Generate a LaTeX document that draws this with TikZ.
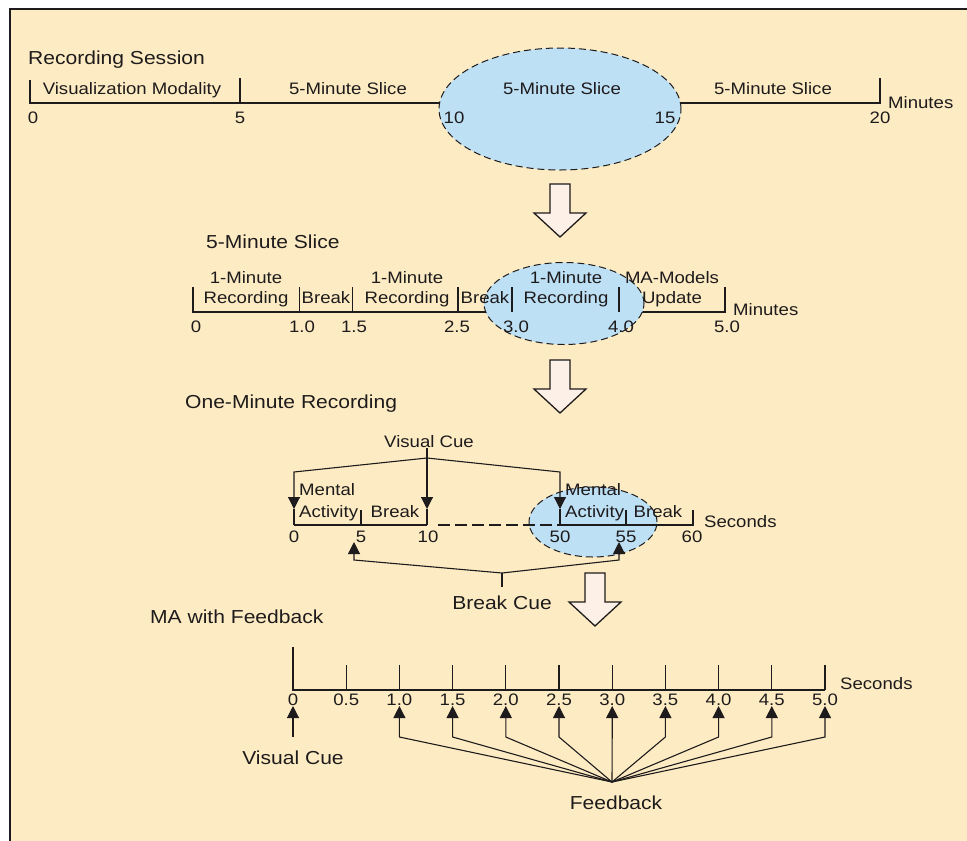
\documentclass[tikz,border=0pt]{standalone}
\usepackage{fontspec}
\setmainfont{Liberation Sans}[FakeStretch=1.12]
\usetikzlibrary{arrows.meta,shapes.geometric}
\definecolor{bgc}{RGB}{253,236,195}
\definecolor{ink}{RGB}{30,27,28}
\definecolor{ellc}{RGB}{190,224,245}
\definecolor{arrc}{RGB}{253,240,230}
\tikzset{
 tl/.style={draw=ink, line width=1.3pt},
 lbl/.style={text=ink, font=\fontsize{16.6}{18}\selectfont, inner sep=0pt, text height=11.9pt, text depth=0pt},
 big/.style={text=ink, font=\fontsize{18.8}{20}\selectfont, inner sep=0pt, text height=13.4pt, text depth=0pt},
 hl/.style={ellipse, fill=ellc, draw=ink, dash pattern=on 7pt off 4pt, line width=1pt, inner sep=0pt},
 cue/.style={draw=ink, line width=1.1pt, -{Triangle[width=12pt,length=12pt]}},
 cueline/.style={draw=ink, line width=1.1pt},
 blockarrow/.pic={\draw[fill=arrc, draw=ink, line width=1.3pt, line join=miter] (-10,0) -- (10,0) -- (10,29) -- (26,29) -- (0,53) -- (-26,29) -- (-10,29) -- cycle;}
}
\begin{document}
\begin{tikzpicture}[x=1pt,y=-1pt]
\useasboundingbox (0,0) rectangle (967,841);
\fill[bgc] (10,9) rectangle (967,841);
\draw[ink, line width=2pt] (10,841) -- (10,9) -- (967,9);

% ---------- Section 1 ----------
\node[big, anchor=west] (h1) at (28,58) {Recording Session};
\coordinate (a0t) at (30,80);  \coordinate (a0) at (30,103);
\coordinate (a5t) at (240,78); \coordinate (a5) at (240,103);
\coordinate (a20t) at (880,78); \coordinate (a20) at (880,103);
\draw[tl] (a0t) -- (a0) -- (a20) -- (a20t);
\draw[tl] (a5t) -- (a5);
\node[hl, minimum width=242pt, minimum height=122pt] (e1) at (560,109) {};
\node[lbl] (l1a) at (132,89) {Visualization Modality};
\node[lbl] (l1b) at (348,89) {5-Minute Slice};
\node[lbl] (l1c) at (562,89) {5-Minute Slice};
\node[lbl] (l1d) at (773,89) {5-Minute Slice};
\node[lbl] (n1a) at (33,118) {0};
\node[lbl] (n1b) at (240,118) {5};
\node[lbl] (n1c) at (454,118) {10};
\node[lbl] (n1d) at (665,118) {15};
\node[lbl] (n1e) at (880,118) {20};
\node[lbl, anchor=west] (u1) at (888,103) {Minutes};

\pic at (560,184) {blockarrow};

% ---------- Section 2 ----------
\node[big, anchor=west] (h2) at (206,242) {5-Minute Slice};
\coordinate (b0) at (193,312);   \coordinate (b0t) at (193,287);
\coordinate (b1) at (299.5,312); \coordinate (b1t) at (299.5,287);
\coordinate (b15) at (352.6,312); \coordinate (b15t) at (352.6,287);
\coordinate (b25) at (458,312);  \coordinate (b25t) at (458,287);
\coordinate (b3) at (512,312);   \coordinate (b3t) at (512,287);
\coordinate (b4) at (619,312);   \coordinate (b4t) at (619,287);
\coordinate (b5) at (725,312);   \coordinate (b5t) at (725,287);
\draw[tl] (b0t) -- (b0) -- (b5) -- (b5t);
\foreach \t in {b1,b15,b25} \draw[tl] (\t t) -- (\t);
\node[hl, minimum width=160pt, minimum height=82pt] (e2) at (564,303.5) {};
\foreach \t in {b3,b4} \draw[tl] (\t t) -- (\t);
\node[lbl] (r2a1) at (246,278) {1-Minute};
\node[lbl] (r2a2) at (246,298) {Recording};
\node[lbl] (k2a) at (326,298) {Break};
\node[lbl] (r2b1) at (407,278) {1-Minute};
\node[lbl] (r2b2) at (407,298) {Recording};
\node[lbl] (k2b) at (485,298) {Break};
\node[lbl] (r2c1) at (566,278) {1-Minute};
\node[lbl] (r2c2) at (566,298) {Recording};
\node[lbl] (m2a) at (672,278) {MA-Models};
\node[lbl] (m2b) at (672,298) {Update};
\node[lbl] (n2a) at (196,327) {0};
\node[lbl] (n2b) at (302,327) {1.0};
\node[lbl] (n2c) at (354,327) {1.5};
\node[lbl] (n2d) at (457,327) {2.5};
\node[lbl] (n2e) at (516,327) {3.0};
\node[lbl] (n2f) at (621,327) {4.0};
\node[lbl] (n2g) at (727,327) {5.0};
\node[lbl, anchor=west] (u2) at (733,310) {Minutes};

\pic at (560,360) {blockarrow};

% ---------- Section 3 ----------
\node[big, anchor=west] (h3) at (185,402) {One-Minute Recording};
\node[hl, minimum width=128pt, minimum height=70pt] (e3) at (593,522) {};
\coordinate (c0) at (294,525);  \coordinate (c0a) at (294,509);
\coordinate (c5) at (361,525);  \coordinate (c5t) at (361,510);
\coordinate (c10) at (427,525); \coordinate (c10a) at (427,509);
\coordinate (c50) at (560,525); \coordinate (c50a) at (560,509);
\coordinate (c55) at (626,525); \coordinate (c55t) at (626,510);
\coordinate (c60) at (693,525); \coordinate (c60t) at (693,510);
\coordinate (cd) at (438,525);
\draw[tl] (c0) -- (c10);
\draw[tl, dash pattern=on 12pt off 5pt] (cd) -- (c50);
\draw[tl] (c50) -- (c60) -- (c60t);
\draw[tl] (c5t) -- (c5);
\draw[tl] (c55t) -- (c55);
\draw[tl] (c0a) -- (c0);
\draw[tl] (c10a) -- (c10);
\draw[tl] (c50a) -- (c50);
% visual cue
\node[lbl] (vc3) at (429,442) {Visual Cue};
\coordinate (vcj) at (427,458);
\coordinate (vcl) at (294,472);
\coordinate (vcr) at (560,472);
\draw[cueline] (vc3.south -| vcj) -- (vcj);
\draw[cue] (vcj) -- (vcl) -- (c0a);
\draw[cue] (vcj) -- (c10a);
\draw[cue] (vcj) -- (vcr) -- (c50a);
% break cue
\node[big] (bc) at (502,603) {Break Cue};
\coordinate (bcs) at (502,587);
\coordinate (bcj) at (502,573);
\coordinate (bcl) at (354,560);  \coordinate (bcla) at (354,542);
\coordinate (bcr) at (619,560);  \coordinate (bcra) at (619,542);
\draw[cueline] (bcs) -- (bcj);
\draw[cue] (bcj) -- (bcl) -- (bcla);
\draw[cue] (bcj) -- (bcr) -- (bcra);
% labels
\node[lbl, anchor=west] (ma1) at (299,490) {Mental};
\node[lbl, anchor=west] (ac1) at (299,512) {Activity};
\node[lbl] (br1) at (395,512) {Break};
\node[lbl, anchor=west] (ma2) at (565,490) {Mental};
\node[lbl, anchor=west] (ac2) at (565,512) {Activity};
\node[lbl] (br2) at (658,512) {Break};
\node[lbl, anchor=west] (u3) at (704,522) {Seconds};
\node[lbl] (n3a) at (294,537) {0};
\node[lbl] (n3b) at (361,537) {5};
\node[lbl] (n3c) at (428,537) {10};
\node[lbl] (n3d) at (560,537) {50};
\node[lbl] (n3e) at (626,537) {55};
\node[lbl] (n3f) at (692,537) {60};

\pic at (595,573) {blockarrow};

% ---------- Section 4 ----------
\node[big, anchor=west] (h4) at (150,617) {MA with Feedback};
\coordinate (d0) at (293,690);
\coordinate (d0t) at (293,647);
\coordinate (d10) at (825,690);
\draw[tl] (d0t) -- (d0) -- (d10);
\foreach \k/\lab in {1/0.5,2/1.0,3/1.5,4/2.0,5/2.5,6/3.0,7/3.5,8/4.0,9/4.5,10/5.0}{
  \coordinate (t\k) at ({293+53.2*\k},690);
  \coordinate (t\k t) at ({293+53.2*\k},665);
  \draw[tl] (t\k t) -- (t\k);
  \node[lbl] (tn\k) at ({293+53.2*\k},700) {\lab};
}
\node[lbl] (tn0) at (293,700) {0};
\node[lbl, anchor=west] (u4) at (840,684) {Seconds};
% visual cue
\node[big] (vc4) at (293,758) {Visual Cue};
\coordinate (vc4s) at (293,737);
\coordinate (vc4a) at (293,706);
\draw[cue] (vc4s) -- (vc4a);
% feedback
\node[big] (fb) at (616,803) {Feedback};
\coordinate (fbj) at (612,782);
\foreach \k in {2,...,10}{
  \coordinate (f\k s) at ({293+53.2*\k},737);
  \coordinate (f\k a) at ({293+53.2*\k},706);
  \draw[cue] (fbj) -- (f\k s) -- (f\k a);
}
\end{tikzpicture}
\end{document}
